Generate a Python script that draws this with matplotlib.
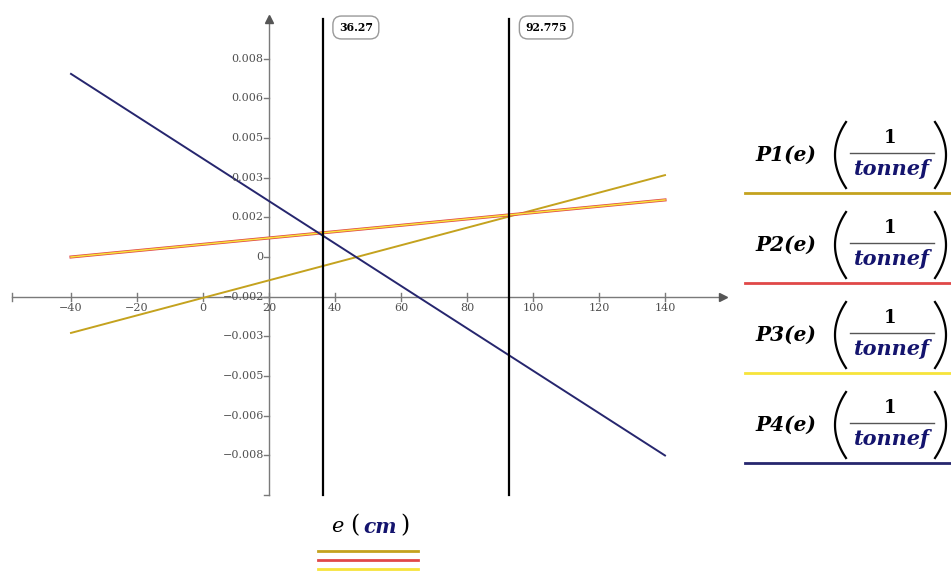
import matplotlib
matplotlib.use("Agg")
import matplotlib.pyplot as plt
from matplotlib.lines import Line2D
import numpy as np

# ---- data ----
e_vals = [-40, 140]
P1 = [-0.00306, 0.00330]
P2 = [0.00000, 0.00230]
P3 = [0.00000, 0.00230]
P4 = [0.00738, -0.00800]
markers = [36.27, 92.775]
x_ticks = [-40, -20, 0, 20, 40, 60, 80, 100, 120, 140]
y_ticks = [0.008, 0.0064, 0.0048, 0.0032, 0.0016, 0.0, -0.0016, -0.0032, -0.0048, -0.0064, -0.008]
y_tick_labels = ["0.008", "0.006", "0.005", "0.003", "0.002", "0",
                 "\u22120.002", "\u22120.003", "\u22120.005", "\u22120.006", "\u22120.008"]
series_names = ["P1", "P2", "P3", "P4"]
colors = ["#C4A21E", "#E04848", "#F7E43A", "#26266E"]
NAVY = "#14146E"
W, H = 951, 576

fig = plt.figure(figsize=(W / 100, H / 100), dpi=100)
L, R, T, B = 10, 730, 15, 500
ax = fig.add_axes([L / W, 1 - B / H, (R - L) / W, (B - T) / H])
ax.set_axis_off()
xmin, xmax = (L - 203) / 3.3, (R - 203) / 3.3
ymax, ymin = (257 - T) / 24812.0, (257 - B) / 24812.0
ax.set_xlim(xmin, xmax)
ax.set_ylim(ymin, ymax)

AX = "#7A7A7A"
x_cross, y_cross = 20, -0.0016
y_bot, y_top = -0.0096, 0.0096
x_left, x_right = -58.0, 157.5

ax.plot([x_left, x_right], [y_cross, y_cross], color=AX, lw=1.0, clip_on=False)
ax.plot([x_cross, x_cross], [y_bot, y_top], color=AX, lw=1.0, clip_on=False)
ax.plot([x_right], [y_cross], marker=">", color="#555555", ms=6, clip_on=False)
ax.plot([x_cross], [y_top], marker="^", color="#555555", ms=6, clip_on=False)

for xt in [x_left] + x_ticks:
    ax.plot([xt, xt], [y_cross - 0.00016, y_cross + 0.00016], color=AX, lw=1.0)
for xt in x_ticks:
    lab = str(xt).replace("-", "\u2212")
    ax.text(xt, y_cross - 0.00025, lab, ha="center", va="top", fontsize=8,
            family="DejaVu Serif", color="#505050")
for yt, lab in zip(y_ticks + [y_bot], y_tick_labels + [""]):
    ax.plot([x_cross - 1.4, x_cross], [yt, yt], color=AX, lw=1.0)
    if lab:
        ax.text(x_cross - 1.6, yt, lab, ha="right", va="center", fontsize=8,
                family="DejaVu Serif", color="#505050")

ax.plot(e_vals, P1, color=colors[0], lw=1.4)
ax.plot(e_vals, P2, color=colors[1], lw=2.2)
ax.plot(e_vals, P3, color=colors[2], lw=1.1)
ax.plot(e_vals, P4, color=colors[3], lw=1.4)

for m in markers:
    ax.plot([m, m], [y_bot, y_top], color="black", lw=1.6, clip_on=False)
    ax.text(m + 4.9, 0.00925, f"{m:g}", ha="left", va="center", fontsize=7.8,
            family="DejaVu Serif", weight="bold", color="black",
            bbox=dict(boxstyle="round,pad=0.55,rounding_size=0.8", fc="white", ec="#999999", lw=1))

# ---- legend on the right ----
def fp(x, y):
    return (x / W, 1 - y / H)

FT = fig.transFigure
tt = np.linspace(-1, 1, 40)
for i, name in enumerate(series_names):
    cy = 155 + i * 90
    fig.text(*fp(755, cy), f"{name}(e)", ha="left", va="center", fontsize=14.5,
             family="DejaVu Serif", style="italic", weight="bold", color="black")
    fig.text(*fp(890, cy - 17), "1", ha="center", va="center", fontsize=13,
             family="DejaVu Serif", weight="bold", color="black")
    fig.add_artist(Line2D([850 / W, 934 / W], [1 - (cy - 2) / H] * 2, color="#555555", lw=1.0, transform=FT))
    fig.text(*fp(892, cy + 14), "tonnef", ha="center", va="center", fontsize=15,
             family="DejaVu Serif", style="italic", weight="bold", color=NAVY)
    py = cy + 33 * tt
    fig.add_artist(Line2D((835 + 11 * tt ** 2) / W, 1 - py / H, color="black", lw=1.6, transform=FT))
    fig.add_artist(Line2D((946 - 11 * tt ** 2) / W, 1 - py / H, color="black", lw=1.6, transform=FT))
    uy = 193 + i * 90
    fig.add_artist(Line2D([745 / W, 951 / W], [1 - uy / H] * 2, color=colors[i], lw=2.0, transform=FT))

# x-axis label
fig.text(*fp(337, 526), "e", ha="center", va="center", fontsize=15,
         family="DejaVu Serif", style="italic", color="black")
fig.text(*fp(355, 526), "(", ha="center", va="center", fontsize=17,
         family="DejaVu Serif", color="black")
fig.text(*fp(380, 527), "cm", ha="center", va="center", fontsize=14.5,
         family="DejaVu Serif", style="italic", weight="bold", color=NAVY)
fig.text(*fp(405, 526), ")", ha="center", va="center", fontsize=17,
         family="DejaVu Serif", color="black")
for j, uy in enumerate([551, 560, 569]):
    fig.add_artist(Line2D([318 / W, 418 / W], [1 - uy / H] * 2, color=colors[j], lw=2.0, transform=FT))

fig.savefig("out.png", dpi=100)
